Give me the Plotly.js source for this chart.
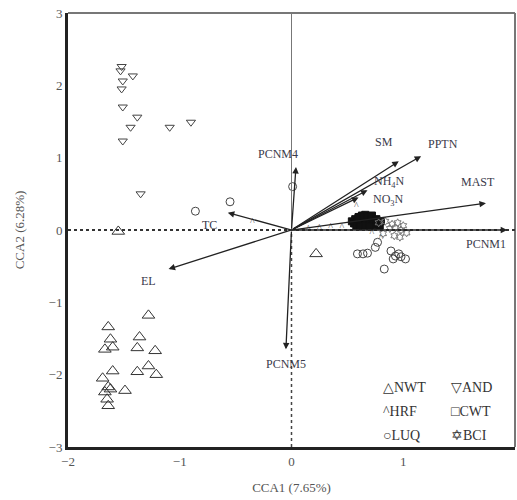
<!DOCTYPE html>
<html><head><meta charset="utf-8">
<script src="https://cdn.plot.ly/plotly-3.0.1.min.js"></script>
<style>body{margin:0;background:#fff}#c{width:517px;height:500px}</style>
</head><body><div id="c"></div>
<script>
// Site scores
const nwtX = [-1.28,-1.64,-1.62,-1.67,-1.60,-1.36,-1.38,-1.22,-1.38,-1.28,-1.21,-1.60,-1.69,-1.64,-1.67,-1.62,-1.49,-1.64,-1.65,-1.55,0.22];
const nwtY = [-1.18,-1.34,-1.51,-1.65,-1.62,-1.48,-1.63,-1.67,-1.96,-1.88,-2.00,-1.95,-2.05,-2.17,-2.24,-2.20,-2.22,-2.43,-2.34,-0.02,-0.33];
const andX = [-1.52,-1.53,-1.42,-1.51,-1.52,-1.51,-1.38,-1.44,-1.09,-0.90,-1.51,-1.35];
const andY = [2.26,2.20,2.13,2.06,1.95,1.70,1.56,1.42,1.42,1.49,1.23,0.50];
const hrfX = [-0.35,0.15,0.25,0.35,0.45,0.58,0.72,0.80];
const hrfY = [0.11,0.01,0.02,0.04,0.03,0.33,-0.05,-0.12];
const cwtX = [0.54,0.57,0.60,0.63,0.66,0.69,0.72,0.75,0.56,0.59,0.62,0.65,0.68,0.71,0.74,0.58,0.61,0.64,0.67,0.70,0.73,0.62,0.66,0.70,0.60,0.64,0.68,0.72,0.76,0.78,0.80,0.79];
const cwtY = [0.12,0.15,0.18,0.20,0.21,0.19,0.16,0.12,0.09,0.11,0.14,0.16,0.15,0.13,0.10,0.06,0.08,0.10,0.11,0.09,0.07,0.05,0.06,0.05,0.17,0.19,0.18,0.20,0.15,0.09,0.12,0.06];
const luqX = [-0.86,-0.55,0.01,0.59,0.64,0.68,0.75,0.77,0.89,0.93,0.98,1.02,0.91,0.83,0.96];
const luqY = [0.26,0.39,0.60,-0.33,-0.33,-0.32,-0.24,-0.17,-0.29,-0.36,-0.37,-0.40,-0.40,-0.54,-0.33];
const bciX = [0.78,0.84,0.90,0.95,1.00,0.88,0.93,0.98,1.03,0.82,0.92,0.97];
const bciY = [0.10,0.12,0.08,0.10,0.06,0.02,0.03,0.00,-0.04,-0.05,-0.08,-0.10];

// Environmental vectors
const envNames = ['PCNM1','MAST','PPTN','SM','NH<sub>4</sub>N','NO<sub>3</sub>N','TC','EL','PCNM4','PCNM5'];
const envX = [1.93,1.74,1.16,0.96,0.68,0.60,-0.57,-1.10,0.04,-0.05];
const envY = [0.00,0.37,1.02,0.95,0.55,0.45,0.24,-0.54,0.87,-1.65];
const labX = [1.74,1.67,1.36,0.83,0.88,0.87,-0.73,-1.28,-0.12,-0.05];
const labY = [-0.20,0.66,1.19,1.22,0.67,0.41,0.07,-0.70,1.05,-1.85];

// Legend
const legendText = ['△NWT','▽AND','^HRF','□CWT','○LUQ','✡BCI'];
const legendCol = [0,1,0,1,0,1];
const legendRow = [0,0,1,1,2,2];

const mk = (sym, size, col) => ({symbol: sym, size: size, color: col, line: {color: col, width: 1}});
const traces = [
  {x: nwtX, y: nwtY, mode: 'markers', name: 'NWT', marker: mk('triangle-up-open', 11, '#333')},
  {x: andX, y: andY, mode: 'markers', name: 'AND', marker: mk('triangle-down-open', 8, '#444')},
  {x: hrfX, y: hrfY, mode: 'text', name: 'HRF', text: hrfX.map(() => '^'), textfont: {family: 'Liberation Serif', size: 10, color: '#555'}},
  {x: cwtX, y: cwtY, mode: 'markers', name: 'CWT', marker: mk('square', 7, '#111')},
  {x: luqX, y: luqY, mode: 'markers', name: 'LUQ', marker: mk('circle-open', 8, '#444')},
  {x: bciX, y: bciY, mode: 'markers', name: 'BCI', marker: mk('hexagram-open', 6, '#777')}
];

const font = {family: 'Liberation Serif', color: '#444'};
const annotations = [];
envNames.forEach((n, i) => {
  annotations.push({x: envX[i], y: envY[i], ax: 0, ay: 0, axref: 'x', ayref: 'y', xref: 'x', yref: 'y',
    text: '', showarrow: true, arrowhead: 2, arrowsize: 1, arrowwidth: 1.3, arrowcolor: '#222'});
  annotations.push({x: labX[i], y: labY[i], xref: 'x', yref: 'y', text: n, showarrow: false,
    font: {family: 'Liberation Serif', size: 12, color: '#3a3a4a'}});
});
legendText.forEach((t, i) => {
  annotations.push({xref: 'paper', yref: 'paper', x: 0.7 + legendCol[i] * 0.152, y: 0.136 - legendRow[i] * 0.055,
    xanchor: 'left', yanchor: 'middle', text: t, showarrow: false,
    font: {family: 'Liberation Serif', size: 14, color: '#333'}});
});

const layout = {
  width: 517, height: 500,
  margin: {l: 68, r: 2, t: 13, b: 53},
  showlegend: false,
  paper_bgcolor: '#fff', plot_bgcolor: '#fff',
  font: font,
  xaxis: {range: [-2, 2], tickvals: [-2, -1, 0, 1, 2], ticktext: ['−2', '−1', '0', '1', '2'],
    showgrid: false, zeroline: false, showline: true, linecolor: '#222', linewidth: 3,
    ticks: '', tickfont: {family: 'Liberation Serif', size: 13, color: '#555'},
    title: {text: 'CCA1 (7.65%)', font: {family: 'Liberation Serif', size: 13, color: '#555'}, standoff: 16}},
  yaxis: {range: [-3, 3], tickvals: [-3, -2, -1, 0, 1, 2, 3], ticktext: ['−3', '−2', '−1', '0', '1', '2', '3'],
    showgrid: false, zeroline: false, showline: true, linecolor: '#222', linewidth: 3,
    ticks: '', tickfont: {family: 'Liberation Serif', size: 13, color: '#555'},
    title: {text: 'CCA2 (6.28%)', font: {family: 'Liberation Serif', size: 13, color: '#555'}, standoff: 22}},
  shapes: [
    {type: 'line', xref: 'paper', yref: 'paper', x0: 0, x1: 1, y0: 1, y1: 1, line: {color: '#777', width: 2}},
    {type: 'line', xref: 'paper', yref: 'paper', x0: 1, x1: 1, y0: 0, y1: 1, line: {color: '#777', width: 2}},
    {type: 'line', xref: 'x', yref: 'y', x0: 0, x1: 0, y0: 0, y1: 3, line: {color: '#777', width: 1}},
    {type: 'line', xref: 'x', yref: 'y', x0: 0, x1: 0, y0: -3, y1: 0, line: {color: '#444', width: 1.5, dash: 'dot'}},
    {type: 'line', xref: 'x', yref: 'y', x0: -2, x1: 2, y0: 0, y1: 0, line: {color: '#333', width: 2, dash: 'dot'}}
  ],
  annotations: annotations
};
Plotly.newPlot('c', traces, layout, {displayModeBar: false, staticPlot: true});
</script></body></html>
